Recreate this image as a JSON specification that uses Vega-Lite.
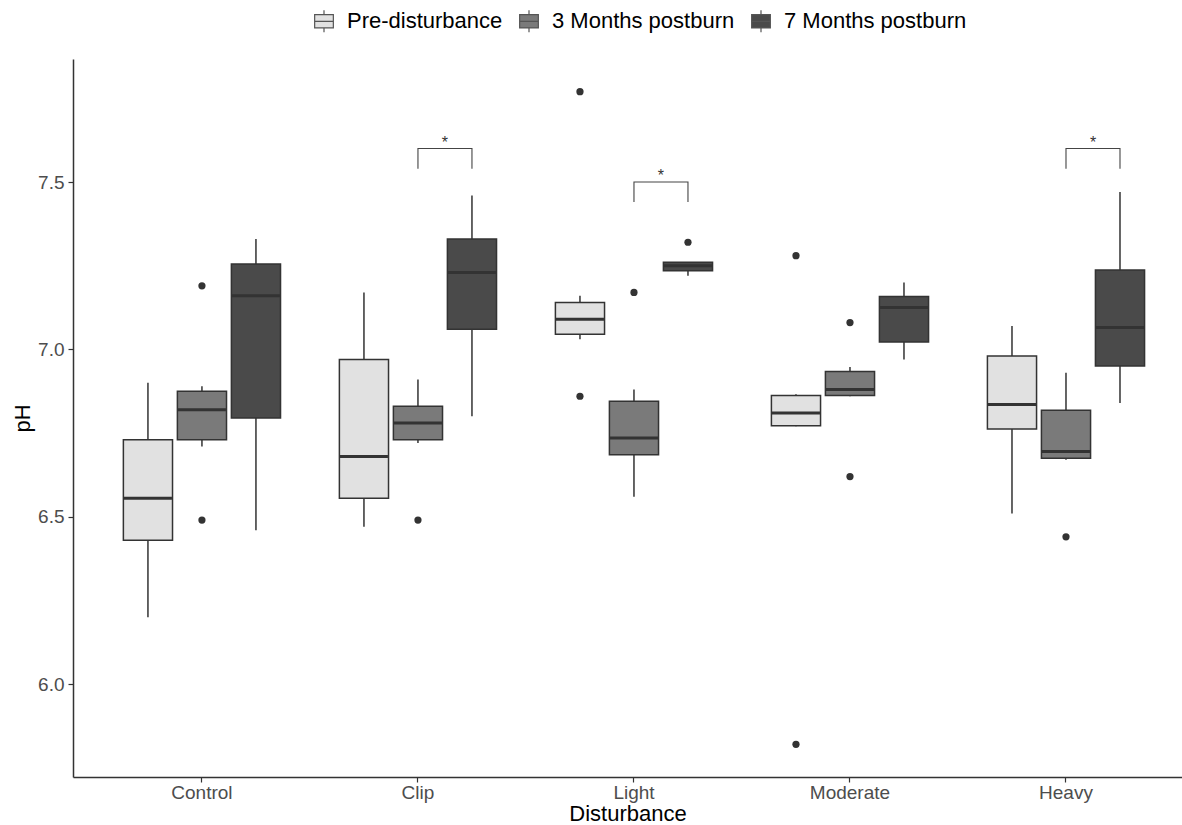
{
  "$schema": "https://vega.github.io/schema/vega-lite/v6.json",
  "width": 1109,
  "height": 718,
  "autosize": "none",
  "padding": {"left": 73, "top": 59, "right": 0, "bottom": 48},
  "background": "white",
  "config": {"view": {"stroke": null}, "font": "Liberation Sans"},
  "datasets": {
    "boxes": [
      {"Disturbance": "Control", "Group": "Pre-disturbance", "lower": 6.20, "q1": 6.43, "median": 6.555, "q3": 6.73, "upper": 6.90},
      {"Disturbance": "Control", "Group": "3 Months postburn", "lower": 6.71, "q1": 6.73, "median": 6.82, "q3": 6.875, "upper": 6.89},
      {"Disturbance": "Control", "Group": "7 Months postburn", "lower": 6.46, "q1": 6.795, "median": 7.16, "q3": 7.255, "upper": 7.33},
      {"Disturbance": "Clip", "Group": "Pre-disturbance", "lower": 6.47, "q1": 6.555, "median": 6.68, "q3": 6.97, "upper": 7.17},
      {"Disturbance": "Clip", "Group": "3 Months postburn", "lower": 6.72, "q1": 6.73, "median": 6.78, "q3": 6.83, "upper": 6.91},
      {"Disturbance": "Clip", "Group": "7 Months postburn", "lower": 6.80, "q1": 7.06, "median": 7.23, "q3": 7.33, "upper": 7.46},
      {"Disturbance": "Light", "Group": "Pre-disturbance", "lower": 7.03, "q1": 7.045, "median": 7.09, "q3": 7.14, "upper": 7.16},
      {"Disturbance": "Light", "Group": "3 Months postburn", "lower": 6.56, "q1": 6.685, "median": 6.735, "q3": 6.845, "upper": 6.88},
      {"Disturbance": "Light", "Group": "7 Months postburn", "lower": 7.22, "q1": 7.235, "median": 7.25, "q3": 7.26, "upper": 7.26},
      {"Disturbance": "Moderate", "Group": "Pre-disturbance", "lower": 6.77, "q1": 6.772, "median": 6.81, "q3": 6.862, "upper": 6.866},
      {"Disturbance": "Moderate", "Group": "3 Months postburn", "lower": 6.86, "q1": 6.862, "median": 6.88, "q3": 6.934, "upper": 6.947},
      {"Disturbance": "Moderate", "Group": "7 Months postburn", "lower": 6.97, "q1": 7.022, "median": 7.125, "q3": 7.158, "upper": 7.20},
      {"Disturbance": "Heavy", "Group": "Pre-disturbance", "lower": 6.51, "q1": 6.762, "median": 6.835, "q3": 6.98, "upper": 7.07},
      {"Disturbance": "Heavy", "Group": "3 Months postburn", "lower": 6.67, "q1": 6.675, "median": 6.695, "q3": 6.818, "upper": 6.93},
      {"Disturbance": "Heavy", "Group": "7 Months postburn", "lower": 6.84, "q1": 6.95, "median": 7.065, "q3": 7.237, "upper": 7.47}
    ],
    "outliers": [
      {"Disturbance": "Control", "Group": "3 Months postburn", "pH": 7.19},
      {"Disturbance": "Control", "Group": "3 Months postburn", "pH": 6.49},
      {"Disturbance": "Clip", "Group": "3 Months postburn", "pH": 6.49},
      {"Disturbance": "Light", "Group": "Pre-disturbance", "pH": 7.77},
      {"Disturbance": "Light", "Group": "Pre-disturbance", "pH": 6.86},
      {"Disturbance": "Light", "Group": "3 Months postburn", "pH": 7.17},
      {"Disturbance": "Light", "Group": "7 Months postburn", "pH": 7.32},
      {"Disturbance": "Moderate", "Group": "Pre-disturbance", "pH": 7.28},
      {"Disturbance": "Moderate", "Group": "Pre-disturbance", "pH": 5.82},
      {"Disturbance": "Moderate", "Group": "3 Months postburn", "pH": 7.08},
      {"Disturbance": "Moderate", "Group": "3 Months postburn", "pH": 6.62},
      {"Disturbance": "Heavy", "Group": "3 Months postburn", "pH": 6.44}
    ],
    "brackets": [
      {"Disturbance": "Clip", "Group": "3 Months postburn", "pH": 7.54, "ord": 1},
      {"Disturbance": "Clip", "Group": "3 Months postburn", "pH": 7.60, "ord": 2},
      {"Disturbance": "Clip", "Group": "7 Months postburn", "pH": 7.60, "ord": 3},
      {"Disturbance": "Clip", "Group": "7 Months postburn", "pH": 7.54, "ord": 4},
      {"Disturbance": "Light", "Group": "3 Months postburn", "pH": 7.44, "ord": 1},
      {"Disturbance": "Light", "Group": "3 Months postburn", "pH": 7.50, "ord": 2},
      {"Disturbance": "Light", "Group": "7 Months postburn", "pH": 7.50, "ord": 3},
      {"Disturbance": "Light", "Group": "7 Months postburn", "pH": 7.44, "ord": 4},
      {"Disturbance": "Heavy", "Group": "3 Months postburn", "pH": 7.54, "ord": 1},
      {"Disturbance": "Heavy", "Group": "3 Months postburn", "pH": 7.60, "ord": 2},
      {"Disturbance": "Heavy", "Group": "7 Months postburn", "pH": 7.60, "ord": 3},
      {"Disturbance": "Heavy", "Group": "7 Months postburn", "pH": 7.54, "ord": 4}
    ],
    "stars": [
      {"Disturbance": "Clip", "pH": 7.60, "label": "*"},
      {"Disturbance": "Light", "pH": 7.50, "label": "*"},
      {"Disturbance": "Heavy", "pH": 7.60, "label": "*"}
    ]
  },
  "layer": [
    {
      "data": {"name": "boxes"},
      "mark": {"type": "rule", "color": "#333333", "strokeWidth": 1.5},
      "encoding": {
        "x": {
          "field": "Disturbance", "type": "nominal",
          "sort": ["Control", "Clip", "Light", "Moderate", "Heavy"],
          "scale": {"paddingInner": 0.25, "paddingOuter": 0.192, "align": 0.578},
          "axis": {
            "title": "Disturbance", "titleFontSize": 22, "titleFontWeight": "normal", "titleColor": "black",
            "titlePadding": 1, "labelFontSize": 19, "labelColor": "#4D4D4D", "labelPadding": 1,
            "labelAngle": 0, "tickSize": 5, "tickColor": "#333333", "tickWidth": 1.2,
            "domainColor": "#333333", "domainWidth": 1.5, "grid": false
          }
        },
        "xOffset": {
          "field": "Group", "type": "nominal",
          "sort": ["Pre-disturbance", "3 Months postburn", "7 Months postburn"],
          "scale": {"paddingInner": 0.09, "paddingOuter": 0.045}
        },
        "y": {
          "field": "lower", "type": "quantitative",
          "scale": {"domain": [5.7225, 7.8675], "nice": false, "zero": false},
          "axis": {
            "title": "pH", "titleFontSize": 22, "titleFontWeight": "normal", "titleColor": "black",
            "titlePadding": 3, "values": [6, 6.5, 7, 7.5], "format": ".1f",
            "labelFontSize": 19, "labelColor": "#4D4D4D", "labelPadding": 4,
            "tickSize": 5, "tickColor": "#333333", "tickWidth": 1.2,
            "domainColor": "#333333", "domainWidth": 1.5, "grid": false
          }
        },
        "y2": {"field": "upper"}
      }
    },
    {
      "data": {"name": "boxes"},
      "mark": {"type": "bar", "stroke": "#333333", "strokeWidth": 1.5},
      "encoding": {
        "x": {"field": "Disturbance", "type": "nominal", "sort": ["Control", "Clip", "Light", "Moderate", "Heavy"]},
        "xOffset": {"field": "Group", "type": "nominal", "sort": ["Pre-disturbance", "3 Months postburn", "7 Months postburn"]},
        "y": {"field": "q1", "type": "quantitative"},
        "y2": {"field": "q3"},
        "fill": {
          "field": "Group", "type": "nominal",
          "sort": ["Pre-disturbance", "3 Months postburn", "7 Months postburn"],
          "scale": {"domain": ["Pre-disturbance", "3 Months postburn", "7 Months postburn"], "range": ["#E1E1E1", "#7A7A7A", "#4A4A4A"]},
          "legend": {
            "orient": "none", "legendX": 239, "legendY": -50, "direction": "horizontal",
            "title": null, "labelFontSize": 22, "labelColor": "black", "labelFont": "Liberation Sans",
            "labelLimit": 0,
            "symbolType": "M-0.85,-0.6H0.85V0.6H-0.85Z M-0.85,0H0.85 M0,-0.6V-1 M0,0.6V1",
            "symbolSize": 484, "symbolStrokeColor": "#555555", "symbolStrokeWidth": 1.2,
            "labelOffset": 11, "columnPadding": 14, "symbolOpacity": 1
          }
        }
      }
    },
    {
      "data": {"name": "boxes"},
      "mark": {"type": "tick", "orient": "horizontal", "size": 48, "thickness": 3, "color": "#333333", "opacity": 1},
      "encoding": {
        "x": {"field": "Disturbance", "type": "nominal", "sort": ["Control", "Clip", "Light", "Moderate", "Heavy"]},
        "xOffset": {"field": "Group", "type": "nominal", "sort": ["Pre-disturbance", "3 Months postburn", "7 Months postburn"]},
        "y": {"field": "median", "type": "quantitative"}
      }
    },
    {
      "data": {"name": "outliers"},
      "mark": {"type": "circle", "size": 52, "color": "#333333", "opacity": 1},
      "encoding": {
        "x": {"field": "Disturbance", "type": "nominal", "sort": ["Control", "Clip", "Light", "Moderate", "Heavy"]},
        "xOffset": {"field": "Group", "type": "nominal", "sort": ["Pre-disturbance", "3 Months postburn", "7 Months postburn"]},
        "y": {"field": "pH", "type": "quantitative"}
      }
    },
    {
      "data": {"name": "brackets"},
      "mark": {"type": "line", "color": "#444444", "strokeWidth": 1.1},
      "encoding": {
        "x": {"field": "Disturbance", "type": "nominal", "sort": ["Control", "Clip", "Light", "Moderate", "Heavy"]},
        "xOffset": {"field": "Group", "type": "nominal", "sort": ["Pre-disturbance", "3 Months postburn", "7 Months postburn"]},
        "y": {"field": "pH", "type": "quantitative"},
        "detail": {"field": "Disturbance"},
        "order": {"field": "ord", "type": "quantitative"}
      }
    },
    {
      "data": {"name": "stars"},
      "mark": {"type": "text", "fontSize": 16, "color": "#333333", "baseline": "alphabetic", "align": "center", "dy": -1},
      "encoding": {
        "x": {"field": "Disturbance", "type": "nominal", "sort": ["Control", "Clip", "Light", "Moderate", "Heavy"], "bandPosition": 0.6667},
        "y": {"field": "pH", "type": "quantitative"},
        "text": {"field": "label"}
      }
    }
  ]
}
